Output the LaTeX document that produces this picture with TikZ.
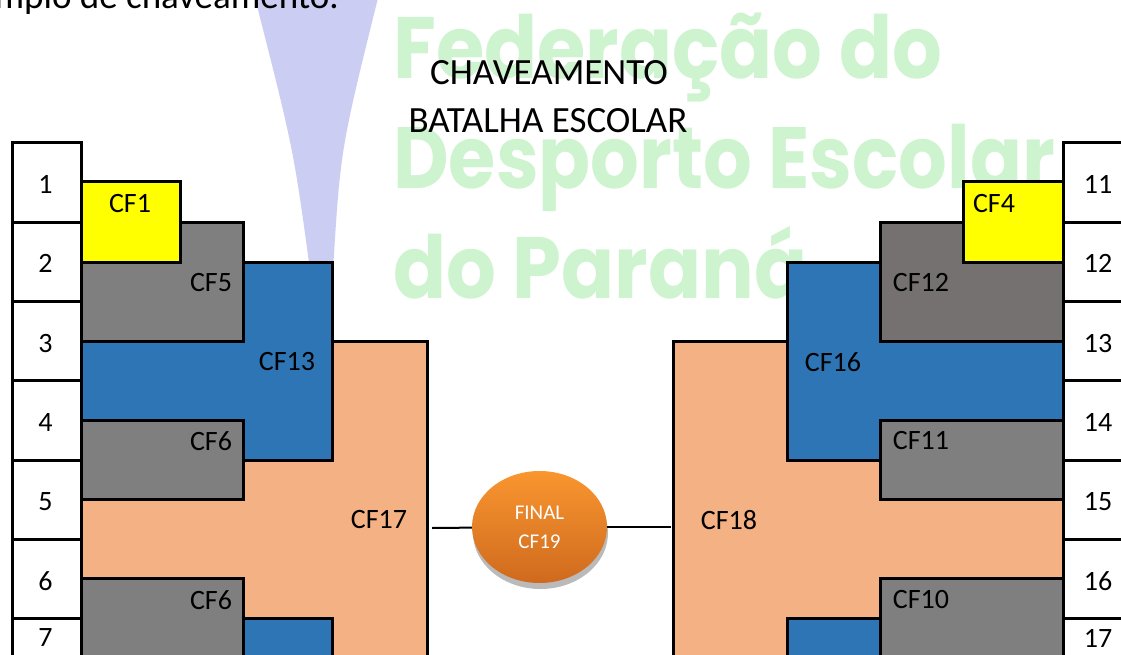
\documentclass[tikz,border=0pt]{standalone}
\usepackage{fontspec}
\setmainfont{Carlito}
\newfontfamily\wmfont{Poppins}
\usetikzlibrary{shapes.geometric,shadows}
\definecolor{cfyellow}{HTML}{FFFF00}
\definecolor{cfgray}{HTML}{7F7F7F}
\definecolor{cfgraywarm}{HTML}{767171}
\definecolor{cfblue}{HTML}{2E75B6}
\definecolor{cfsalmon}{HTML}{F4B183}
\definecolor{funnelblue}{HTML}{CCCDF2}
\definecolor{wmgreen}{HTML}{CEF3CF}
\definecolor{finaltop}{HTML}{F9962F}
\definecolor{finalbot}{HTML}{CF6A1E}

\begin{document}
\begin{tikzpicture}[
    x=1pt, y=-1pt,
    cfbox/.style={shape=rectangle, draw=black, line width=3pt, anchor=north west, inner sep=0pt, outer sep=0pt},
    numbox/.style={cfbox, fill=white, minimum width=69pt, minimum height=79.3pt},
    cftext/.style={font=\fontsize{28}{34}\selectfont, inner sep=0pt},
    titletext/.style={font=\fontsize{37}{44}\selectfont, inner sep=0pt},
    wmtext/.style={font=\wmfont\bfseries\fontsize{87}{87}\selectfont, text=wmgreen, inner sep=0pt, anchor=base west},
    finalnode/.style={shape=ellipse, minimum width=135pt, minimum height=112pt, inner sep=0pt,
        top color=finaltop, bottom color=finalbot, text=white, align=center,
        font=\fontsize{21}{29}\selectfont,
        drop shadow={shadow xshift=1pt, shadow yshift=-6pt, fill=black!45, opacity=.6}},
    link/.style={draw=black, line width=2pt},
]
\useasboundingbox (0,0) rectangle (1121,655);
\clip (0,0) rectangle (1121,655);

\fill[funnelblue] (255,-2) .. controls (293.5,149) .. (310,270) -- (333,270) .. controls (340.5,149) .. (378,-2) -- cycle;

\node[wmtext] (wm1) at (393,79) {\scalebox{0.9}[1]{Federação do}};
\node[wmtext] (wm2) at (393,189) {\scalebox{0.88}[1]{Desporto Escolar}};
\node[wmtext] (wm3) at (393,298) {\scalebox{0.9}[1]{do Paraná}};

\node[titletext, anchor=base east] (intro) at (339,9) {mplo de chaveamento.};
\node[titletext] (title1) at (549,73) {CHAVEAMENTO};
\node[titletext] (title2) at (548,121) {BATALHA ESCOLAR};

\node[cfbox, fill=cfsalmon, minimum width=346pt, minimum height=400pt] (cf17) at (81,341) {};
\node[cfbox, fill=cfblue, minimum width=251pt, minimum height=198pt] (cf13) at (81,262) {};
\node[cfbox, fill=cfblue, minimum width=251pt, minimum height=200pt] (cfbl) at (81,618) {};
\node[cfbox, fill=cfgray, minimum width=162pt, minimum height=119pt] (cf5) at (81,222) {};
\node[cfbox, fill=cfgray, minimum width=162pt, minimum height=79pt] (cf6) at (81,420) {};
\node[cfbox, fill=cfgray, minimum width=162pt, minimum height=200pt] (cf6b) at (81,578) {};
\node[cfbox, fill=cfyellow, minimum width=99pt, minimum height=80pt] (cf1) at (81,182) {};

\node[cfbox, fill=cfsalmon, minimum width=390pt, minimum height=400pt] (cf18) at (673,341) {};
\node[cfbox, fill=cfblue, minimum width=276pt, minimum height=198pt] (cf16) at (787,262) {};
\node[cfbox, fill=cfblue, minimum width=276pt, minimum height=200pt] (cfbr) at (787,618) {};
\node[cfbox, fill=cfgraywarm, minimum width=183pt, minimum height=119pt] (cf12) at (880,222) {};
\node[cfbox, fill=cfgray, minimum width=183pt, minimum height=79pt] (cf11) at (880,420) {};
\node[cfbox, fill=cfgray, minimum width=183pt, minimum height=200pt] (cf10) at (880,578) {};
\node[cfbox, fill=cfyellow, minimum width=100pt, minimum height=80pt] (cf4) at (963,182) {};

\node[numbox] (n1) at (12,143) {};
\node[numbox] (n2) at (12,222.3) {};
\node[numbox] (n3) at (12,301.6) {};
\node[numbox] (n4) at (12,380.9) {};
\node[numbox] (n5) at (12,460.2) {};
\node[numbox] (n6) at (12,539.5) {};
\node[numbox] (n7) at (12,618.8) {};
\node[numbox] (n11) at (1063,143) {};
\node[numbox] (n12) at (1063,222.3) {};
\node[numbox] (n13) at (1063,301.6) {};
\node[numbox] (n14) at (1063,380.9) {};
\node[numbox] (n15) at (1063,460.2) {};
\node[numbox] (n16) at (1063,539.5) {};
\node[numbox] (n17) at (1063,618.8) {};

\node[cftext] (t1) at (45.5,184.5) {1};
\node[cftext] (t2) at (45.5,263.8) {2};
\node[cftext] (t3) at (45.5,343.1) {3};
\node[cftext] (t4) at (45.5,422.4) {4};
\node[cftext] (t5) at (45.5,501.7) {5};
\node[cftext] (t6) at (45.5,581) {6};
\node[cftext] (t7) at (45.5,638) {7};
\node[cftext] (t11) at (1098,184.5) {11};
\node[cftext] (t12) at (1098,263.8) {12};
\node[cftext] (t13) at (1098,343.1) {13};
\node[cftext] (t14) at (1098,422.4) {14};
\node[cftext] (t15) at (1098,501.7) {15};
\node[cftext] (t16) at (1098,581) {16};
\node[cftext] (t17) at (1098,638) {17};

\node[cftext] (l1) at (130,204) {CF1};
\node[cftext] (l5) at (211,283) {CF5};
\node[cftext] (l13) at (287,362) {CF13};
\node[cftext] (l6) at (211,441) {CF6};
\node[cftext] (l17) at (379,520) {CF17};
\node[cftext] (l6b) at (211,600) {CF6};
\node[cftext] (l4) at (994,204) {CF4};
\node[cftext] (l12) at (921,283) {CF12};
\node[cftext] (l16) at (833,362) {CF16};
\node[cftext] (l11) at (921,441) {CF11};
\node[cftext] (l18) at (729,520) {CF18};
\node[cftext] (l10) at (921,600) {CF10};

\node[finalnode] (cf19) at (539.5,527) {FINAL\\CF19};
\coordinate (end17) at (432,528);
\coordinate (end18) at (671,527);

\path
    (end17) edge[link] (cf19)
    (cf19) edge[link] (end18)
;
\end{tikzpicture}
\end{document}
